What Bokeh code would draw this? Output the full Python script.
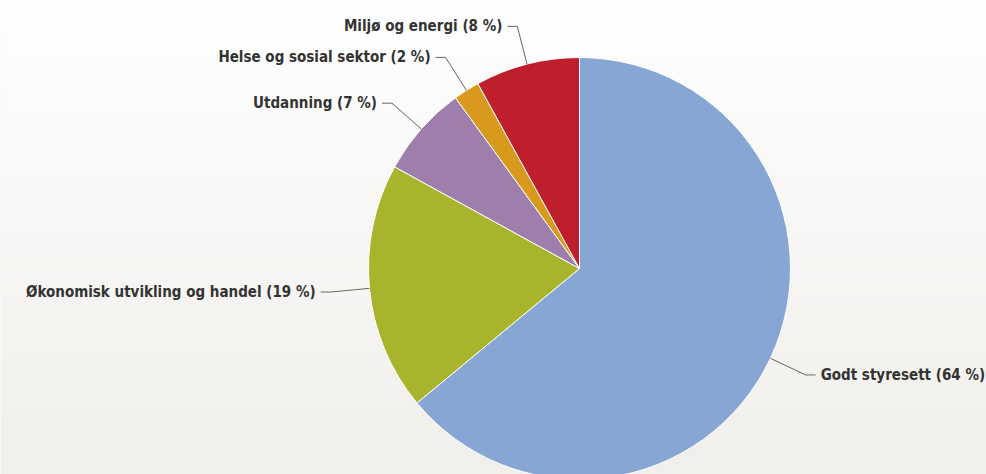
import numpy as np
from bokeh.plotting import figure
from bokeh.models import Range1d, ColumnDataSource
from bokeh.core.properties import value
from bokeh.embed import file_html
from bokeh.resources import INLINE

categories = ["Godt styresett", "Økonomisk utvikling og handel", "Utdanning",
              "Helse og sosial sektor", "Miljø og energi"]
shares = [64, 19, 7, 2, 8]
label_pct = ["64 %", "19 %", "7 %", "2 %", "8 %"]
colors = ["#87a6d3", "#a8b42c", "#9e7eaa", "#d8991c", "#bf1f2d"]

W, H = 986, 474
CX, CY = 579, 206          # pie centre in plot pixels from left / from bottom
R = 211
D = 39

p = figure(width=W, height=H, output_backend="svg", toolbar_location=None,
           x_range=Range1d(-CX, W - CX), y_range=Range1d(-CY, H - CY),
           min_border=0, outline_line_color=None)
p.axis.visible = False
p.grid.visible = False
p.background_fill_color = "#f7f6f3"
p.border_fill_color = "#f7f6f3"

# background gradient (white top -> warm light grey bottom)
top = np.array([255, 255, 255]); bot = np.array([241, 239, 235])
t = np.linspace(0, 1, H)[:, None]
rgb = (bot * (1 - t) + top * t).astype(np.uint32)
img = np.empty((H, 1), dtype=np.uint32)
view = img.view(dtype=np.uint8).reshape((H, 1, 4))
view[:, 0, 0] = rgb[:, 0]; view[:, 0, 1] = rgb[:, 1]; view[:, 0, 2] = rgb[:, 2]; view[:, 0, 3] = 255
p.image_rgba(image=[img], x=-CX, y=-CY, dw=W, dh=H)

total = float(sum(shares))
cum = np.cumsum([0] + shares) / total
start = np.pi / 2 - 2 * np.pi * cum[:-1]
end = np.pi / 2 - 2 * np.pi * cum[1:]
mid = (start + end) / 2

src = ColumnDataSource(dict(start=start, end=end, color=colors))
p.wedge(x=0, y=0, radius=R, start_angle="start", end_angle="end",
        direction="clock", fill_color="color", line_color="white", line_width=1,
        source=src)

xs, ys, tx, ty, txt, align = [], [], [], [], [], []
for name, pct, a in zip(categories, label_pct, mid):
    ex, ey = R * np.cos(a), R * np.sin(a)
    lx, ly = (R + D) * np.cos(a), (R + D) * np.sin(a)
    s = 1 if np.cos(a) >= 0 else -1
    xs.append([ex, lx, lx + s * 10]); ys.append([ey, ly, ly])
    tx.append(lx + s * 15); ty.append(ly)
    txt.append(f"{name} ({pct})")
    align.append("left" if s > 0 else "right")

p.multi_line(xs=xs, ys=ys, line_color="#666666", line_width=1)
p.text(x=tx, y=ty, text=txt, text_align=align, text_baseline="middle",
       text_font=value("DejaVu Sans Condensed"), text_font_style="bold",
       text_font_size="15px", text_color="#333333")

open("out.html", "w").write(file_html(p, INLINE))
